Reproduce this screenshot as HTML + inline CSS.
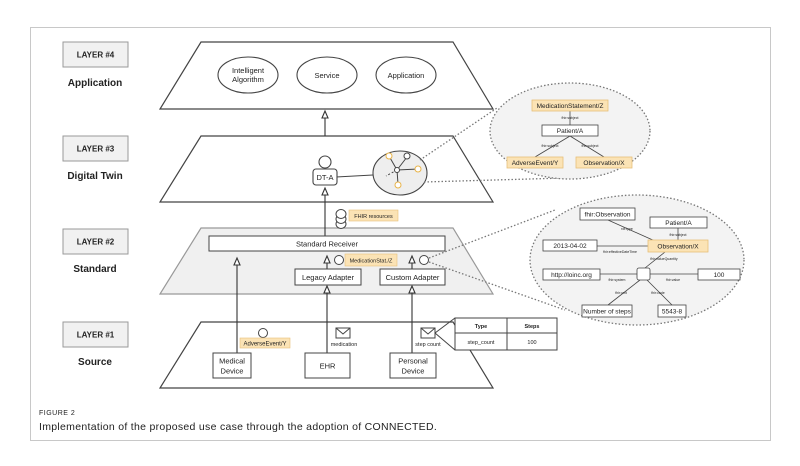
<!DOCTYPE html>
<html><head><meta charset="utf-8"><style>
html,body{margin:0;padding:0;background:#fff}
svg{display:block}
text{font-family:"Liberation Sans",sans-serif;fill:#222}
</style></head><body>
<svg width="800" height="466" viewBox="0 0 800 466" xmlns="http://www.w3.org/2000/svg">
<rect x="30.5" y="27.5" width="740" height="413" fill="#fff" stroke="#c8c8c8"/>
<g font-size="8" font-weight="bold" text-anchor="middle">
<rect x="63" y="42" width="65" height="25" fill="#f1f1f1" stroke="#999"/><text x="95.5" y="57.5" fill="#333">LAYER #4</text>
<rect x="63" y="136" width="65" height="25" fill="#f1f1f1" stroke="#999"/><text x="95.5" y="151.5" fill="#333">LAYER #3</text>
<rect x="63" y="229" width="65" height="25" fill="#f1f1f1" stroke="#999"/><text x="95.5" y="244.5" fill="#333">LAYER #2</text>
<rect x="63" y="322" width="65" height="25" fill="#f1f1f1" stroke="#999"/><text x="95.5" y="337.5" fill="#333">LAYER #1</text>
</g>
<g font-size="10" font-weight="bold" text-anchor="middle">
<text x="95" y="86">Application</text><text x="95" y="179">Digital Twin</text>
<text x="95" y="272">Standard</text><text x="95" y="365">Source</text>
</g>
<g stroke="#444" stroke-width="1.2">
<polygon points="201,42 453,42 493,109 160,109" fill="#fff"/>
<polygon points="201,136 453,136 493,202 160,202" fill="#fff"/>
<polygon points="201,228 453,228 493,294 160,294" fill="#f0f0f0" stroke="#999"/>
<polygon points="201,322 453,322 493,388 160,388" fill="#fff"/>
</g>
<g fill="#fff" stroke="#444" stroke-width="1.1">
<ellipse cx="248" cy="75" rx="30" ry="18"/><ellipse cx="327" cy="75" rx="30" ry="18"/><ellipse cx="406" cy="75" rx="30" ry="18"/>
</g>
<g font-size="7.5" text-anchor="middle"><text x="248" y="73">Intelligent</text><text x="248" y="82">Algorithm</text><text x="327" y="78">Service</text><text x="406" y="78">Application</text></g>
<g stroke="#333" stroke-width="1.1" fill="#fff">
<line x1="325" y1="136" x2="325" y2="114"/><polygon points="322,118 325,111 328,118"/>
<line x1="325" y1="236" x2="325" y2="192"/><polygon points="322,195 325,188 328,195"/>
<line x1="237" y1="353" x2="237" y2="262"/><polygon points="234,265 237,258 240,265"/>
<line x1="327" y1="353" x2="327" y2="290"/><polygon points="324,293 327,286 330,293"/>
<line x1="412" y1="353" x2="412" y2="290"/><polygon points="409,293 412,286 415,293"/>
<line x1="327" y1="269" x2="327" y2="262"/><polygon points="324,263 327,256 330,263"/>
<line x1="412" y1="269" x2="412" y2="262"/><polygon points="409,263 412,256 415,263"/>
</g>
<g stroke="#444" stroke-width="1.1" fill="#fff">
<line x1="336" y1="177" x2="373" y2="175"/>
<circle cx="325" cy="162" r="6"/><rect x="313" y="169" width="24" height="16" rx="3"/>
<ellipse cx="400" cy="173" rx="27" ry="22" fill="#eee"/>
</g>
<text x="325" y="180" font-size="7.5" text-anchor="middle">DT-A</text>
<g stroke="#444" stroke-width="1">
<line x1="389" y1="156" x2="397" y2="170"/><line x1="397" y1="170" x2="407" y2="157"/><line x1="397" y1="170" x2="418" y2="169"/><line x1="397" y1="170" x2="398" y2="184"/><line x1="397" y1="170" x2="386" y2="176" stroke-dasharray="2,2"/>
<circle cx="389" cy="156" r="3" fill="#fff" stroke="#e8b44a"/><circle cx="407" cy="156" r="3" fill="#fff"/><circle cx="397" cy="170" r="2.5" fill="#fff"/><circle cx="418" cy="169" r="3" fill="#fff" stroke="#e8b44a"/><circle cx="398" cy="185" r="3" fill="#fff" stroke="#e8b44a"/>
</g>
<rect x="209" y="236" width="236" height="15" fill="#fff" stroke="#444"/>
<text x="327" y="246.5" font-size="7.5" text-anchor="middle">Standard Receiver</text>
<rect x="295" y="269" width="66" height="16" fill="#fff" stroke="#444"/><text x="328" y="280" font-size="7.5" text-anchor="middle">Legacy Adapter</text>
<rect x="380" y="269" width="65" height="16" fill="#fff" stroke="#444"/><text x="412.5" y="280" font-size="7.5" text-anchor="middle">Custom Adapter</text>
<circle cx="339" cy="260" r="4.5" fill="#fff" stroke="#444"/><circle cx="424" cy="260" r="4.5" fill="#fff" stroke="#444"/>
<rect x="345" y="254" width="52" height="12" fill="#fbe3b5" stroke="#e8c07a" stroke-width="0.6"/><text x="371" y="262.5" font-size="5.5" text-anchor="middle">MedicationStat./Z</text>
<g fill="#fff" stroke="#444"><ellipse cx="341" cy="224" rx="5" ry="4.5"/><ellipse cx="341" cy="219" rx="5" ry="4.5"/><ellipse cx="341" cy="214" rx="5" ry="4.5"/></g>
<rect x="349" y="210" width="49" height="11" fill="#fbe3b5" stroke="#e8c07a" stroke-width="0.6"/><text x="373.5" y="218" font-size="5.5" text-anchor="middle">FHIR resources</text>
<g fill="#fff" stroke="#444"><rect x="213" y="353" width="38" height="25"/><rect x="305" y="353" width="45" height="25"/><rect x="390" y="353" width="46" height="25"/>
<circle cx="263" cy="333" r="4.5"/>
<rect x="336" y="328" width="14" height="10"/><polyline points="336,328 343,334 350,328" fill="none"/>
<rect x="421" y="328" width="14" height="10"/><polyline points="421,328 428,334 435,328" fill="none"/>
<line x1="435" y1="333" x2="455" y2="318"/><line x1="435" y1="333" x2="455" y2="350"/>
<rect x="455" y="318" width="102" height="32"/><line x1="455" y1="333" x2="557" y2="333"/><line x1="507" y1="318" x2="507" y2="350"/></g>
<g font-size="7.5" text-anchor="middle"><text x="232" y="363.5">Medical</text><text x="232" y="373.5">Device</text><text x="327.5" y="368.5">EHR</text><text x="413" y="363.5">Personal</text><text x="413" y="373.5">Device</text></g>
<rect x="240" y="338" width="50" height="10" fill="#fbe3b5" stroke="#e8c07a" stroke-width="0.6"/><text x="265" y="345.5" font-size="6" text-anchor="middle">AdverseEvent/Y</text>
<text x="344" y="346" font-size="5.5" text-anchor="middle">medication</text><text x="428" y="346" font-size="5.5" text-anchor="middle">step count</text>
<g font-size="5.5" text-anchor="middle"><text x="481" y="328" font-weight="bold">Type</text><text x="532" y="328" font-weight="bold">Steps</text><text x="481" y="344">step_count</text><text x="532" y="344">100</text></g>
<g stroke="#777" stroke-width="1.3" stroke-dasharray="1.5,2" fill="none">
<line x1="420" y1="160" x2="497" y2="108"/><line x1="424" y1="182" x2="565" y2="178"/>
<line x1="429" y1="258" x2="555" y2="210"/><line x1="429" y1="262" x2="565" y2="310"/>
</g>
<ellipse cx="570" cy="131" rx="80" ry="48" fill="#f3f3f3" stroke="#777" stroke-width="1.3" stroke-dasharray="1.5,2"/>
<g stroke="#444" stroke-width="0.8"><line x1="570" y1="111" x2="570" y2="125"/><line x1="570" y1="136" x2="535" y2="157"/><line x1="570" y1="136" x2="604" y2="157"/></g>
<g stroke-width="0.8"><rect x="532" y="100" width="76" height="11" fill="#fbe3b5" stroke="#e8c07a"/><rect x="542" y="125" width="56" height="11" fill="#fff" stroke="#444"/><rect x="507" y="157" width="56" height="11" fill="#fbe3b5" stroke="#e8c07a"/><rect x="576" y="157" width="56" height="11" fill="#fbe3b5" stroke="#e8c07a"/></g>
<g font-size="6.5" text-anchor="middle"><text x="570" y="108">MedicationStatement/Z</text><text x="570" y="133">Patient/A</text><text x="535" y="165">AdverseEvent/Y</text><text x="604" y="165">Observation/X</text></g>
<g font-size="3.5" text-anchor="middle" fill="#444"><text x="570" y="119">fhir:subject</text><text x="550" y="147">fhir:subject</text><text x="590" y="147">fhir:subject</text></g>
<ellipse cx="637" cy="260" rx="107" ry="65" fill="#f3f3f3" stroke="#777" stroke-width="1.3" stroke-dasharray="1.5,2"/>
<g stroke="#444" stroke-width="0.8">
<line x1="608" y1="220" x2="655" y2="241"/><line x1="678" y1="228" x2="678" y2="240"/><line x1="597" y1="246" x2="648" y2="246"/>
<line x1="665" y1="252" x2="645" y2="268"/><line x1="600" y1="274" x2="637" y2="274"/><line x1="650" y1="274" x2="698" y2="274"/>
<line x1="640" y1="280" x2="608" y2="305"/><line x1="647" y1="280" x2="672" y2="305"/></g>
<g stroke-width="0.8" fill="#fff" stroke="#444"><rect x="580" y="208" width="55" height="12"/><rect x="650" y="217" width="57" height="11"/><rect x="543" y="240" width="54" height="11"/><rect x="648" y="240" width="60" height="12" fill="#fbe3b5" stroke="#e8c07a"/><rect x="543" y="269" width="57" height="11"/><rect x="637" y="268" width="13" height="12" rx="2"/><rect x="698" y="269" width="42" height="11"/><rect x="582" y="305" width="50" height="12"/><rect x="658" y="305" width="28" height="12"/></g>
<g font-size="6.5" text-anchor="middle"><text x="607.5" y="216.5">fhir:Observation</text><text x="678.5" y="225">Patient/A</text><text x="570" y="248">2013-04-02</text><text x="678" y="248.5">Observation/X</text><text x="571.5" y="277">http://loinc.org</text><text x="719" y="277">100</text><text x="607" y="313.5">Number of steps</text><text x="672" y="313.5">5543-8</text></g>
<g font-size="3.5" text-anchor="middle" fill="#444"><text x="627" y="230">rdf:type</text><text x="678" y="236">fhir:subject</text><text x="620" y="253">fhir:effectiveDateTime</text><text x="664" y="260">fhir:valueQuantity</text><text x="617" y="281">fhir:system</text><text x="673" y="281">fhir:value</text><text x="621" y="294">fhir:unit</text><text x="658" y="294">fhir:code</text></g>
<text x="39" y="415" font-size="7" fill="#666" style="letter-spacing:0.5px">FIGURE 2</text>
<text x="39" y="430" font-size="10.5" fill="#666" style="letter-spacing:0.3px">Implementation of the proposed use case through the adoption of CONNECTED.</text>
</svg>
</body></html>
